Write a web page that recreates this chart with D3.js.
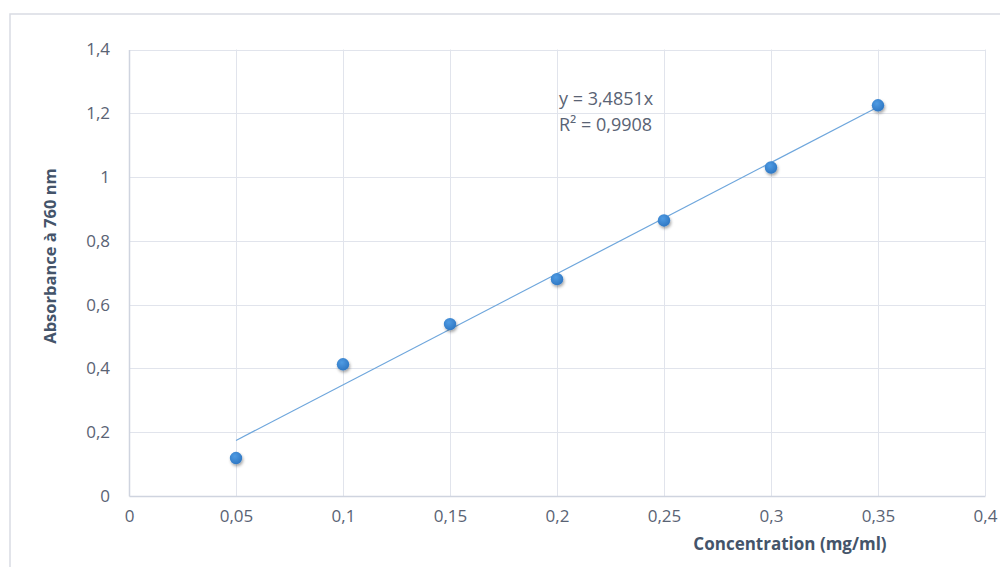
<!DOCTYPE html>
<html><head><meta charset="utf-8">
<script src="https://cdn.jsdelivr.net/npm/d3@7"></script>
<style>body{margin:0;background:#fff;} svg{display:block;font-family:"Open Sans",sans-serif;}</style>
</head><body>
<svg id="c" width="1000" height="567"></svg>
<script>
const concentrations = [0.05, 0.1, 0.15, 0.2, 0.25, 0.3, 0.35];
const absorbance = [0.119, 0.413, 0.539, 0.680, 0.864, 1.030, 1.225];
const xTicks = [0, 0.05, 0.1, 0.15, 0.2, 0.25, 0.3, 0.35, 0.4];
const yTicks = [0, 0.2, 0.4, 0.6, 0.8, 1, 1.2, 1.4];
const slope = 3.4851;
const r2Label = "R² = 0,9908";
const eqLabel = "y = 3,4851x";

const svg = d3.select("#c");
const m = {l:129, r:985, t:49.5, b:496};
const x = d3.scaleLinear().domain([0,0.4]).range([m.l, m.r]);
const y = d3.scaleLinear().domain([0,1.4]).range([m.b, m.t]);
const fmt = v => String(v).replace(".", ",");

const defs = svg.append("defs");
const f = defs.append("filter").attr("id","sh").attr("x","-50%").attr("y","-50%").attr("width","200%").attr("height","200%");
f.append("feDropShadow").attr("dx",1).attr("dy",2).attr("stdDeviation",1.6).attr("flood-color","#000").attr("flood-opacity",0.35);
const g = defs.append("radialGradient").attr("id","mk").attr("cx","40%").attr("cy","35%").attr("r","65%");
g.append("stop").attr("offset","0%").attr("stop-color","#4f9be3");
g.append("stop").attr("offset","100%").attr("stop-color","#2f78c4");

// chart border
svg.append("rect").attr("x",10).attr("y",14).attr("width",1000).attr("height",600)
  .attr("fill","none").attr("stroke","#d9dce3").attr("stroke-width",1.5);

// gridlines
svg.append("g").selectAll("line").data(yTicks.slice(1)).join("line")
  .attr("x1",m.l).attr("x2",m.r).attr("y1",d=>Math.round(y(d))+0.5).attr("y2",d=>Math.round(y(d))+0.5)
  .attr("stroke","#e1e4ec").attr("stroke-width",1);
svg.append("g").selectAll("line").data(xTicks.slice(1)).join("line")
  .attr("y1",m.t).attr("y2",m.b).attr("x1",d=>Math.round(x(d))+0.5).attr("x2",d=>Math.round(x(d))+0.5)
  .attr("stroke","#e1e4ec").attr("stroke-width",1);

// axes
const xa = svg.append("g").attr("transform",`translate(0,${m.b})`)
  .call(d3.axisBottom(x).tickValues(xTicks).tickFormat(fmt).tickSize(0).tickPadding(14));
xa.select(".domain").attr("stroke","#cfd4df").attr("stroke-width",1.5);
xa.selectAll("text").attr("fill","#5a6374").attr("font-size",17).attr("font-family","Open Sans, sans-serif");
const ya = svg.append("g").attr("transform",`translate(${m.l},0)`)
  .call(d3.axisLeft(y).tickValues(yTicks).tickFormat(fmt).tickSize(0).tickPadding(19));
ya.select(".domain").attr("stroke","#cfd4df").attr("stroke-width",1.5);
ya.selectAll("text").attr("fill","#5a6374").attr("font-size",17).attr("font-family","Open Sans, sans-serif");

// trend line
svg.append("line")
  .attr("x1",x(concentrations[0])).attr("y1",y(slope*concentrations[0]))
  .attr("x2",x(concentrations[concentrations.length-1])).attr("y2",y(slope*concentrations[concentrations.length-1]))
  .attr("stroke","#6ea6dc").attr("stroke-width",1.2);

// points
svg.append("g").selectAll("circle").data(concentrations).join("circle")
  .attr("cx",d=>x(d)).attr("cy",(d,i)=>y(absorbance[i])).attr("r",6.2)
  .attr("fill","url(#mk)").attr("filter","url(#sh)");

// equation
svg.append("text").attr("x",559).attr("y",105).attr("fill","#5a6374").attr("font-size",18).text(eqLabel);
svg.append("text").attr("x",559).attr("y",131).attr("fill","#5a6374").attr("font-size",18).text(r2Label);

// axis titles
svg.append("text").attr("x",790).attr("y",550).attr("text-anchor","middle")
  .attr("fill","#44546a").attr("font-weight","bold").attr("font-size",17).text("Concentration (mg/ml)");
svg.append("text").attr("transform","translate(56,256) rotate(-90)").attr("text-anchor","middle")
  .attr("fill","#44546a").attr("font-weight","bold").attr("font-size",16.5).text("Absorbance à 760 nm");
</script>
</body></html>
